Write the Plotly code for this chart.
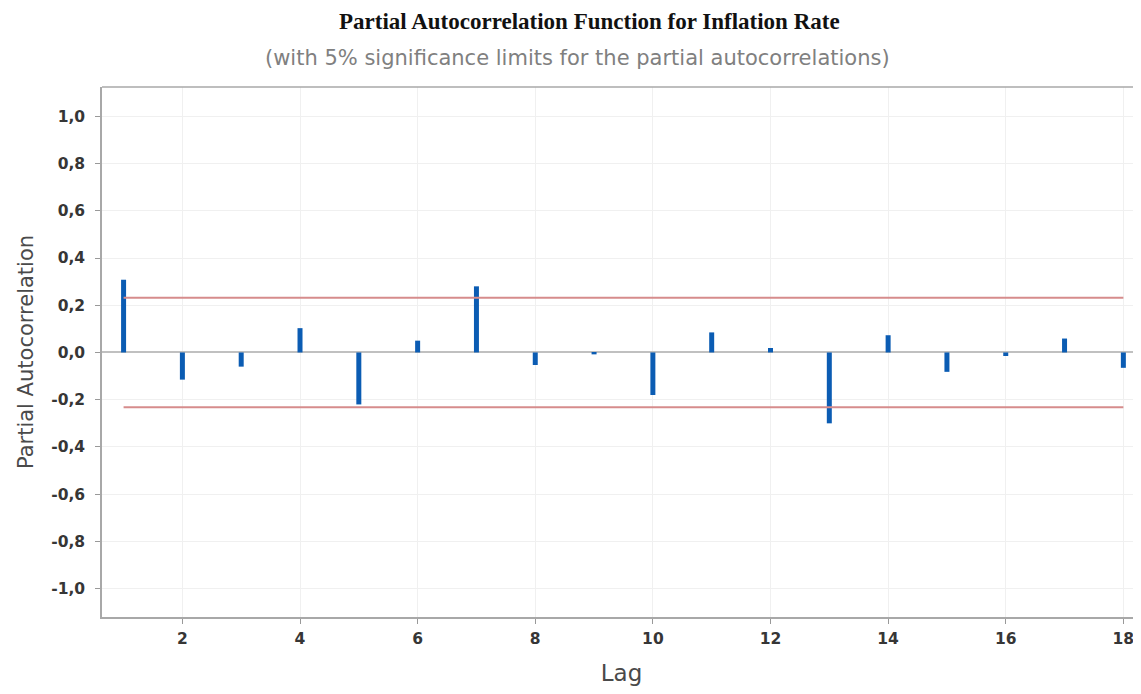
import plotly.graph_objects as go

lags = list(range(1, 19))
pacf = [0.308, -0.115, -0.060, 0.103, -0.220, 0.050, 0.280, -0.053, -0.008,
        -0.180, 0.085, 0.019, -0.300, 0.073, -0.082, -0.015, 0.059, -0.065]
sig_limit = 0.232
y_ticks = [-1.0, -0.8, -0.6, -0.4, -0.2, 0.0, 0.2, 0.4, 0.6, 0.8, 1.0]
y_tick_labels = [f"{v:.1f}".replace(".", ",") for v in y_ticks]
x_ticks = [2, 4, 6, 8, 10, 12, 14, 16, 18]

fig = go.Figure()

fig.add_trace(go.Scatter(x=[lags[0], lags[-1]], y=[sig_limit, sig_limit], mode="lines",
                         line=dict(color="rgb(214,140,140)", width=2), hoverinfo="skip",
                         showlegend=False))
fig.add_trace(go.Scatter(x=[lags[0], lags[-1]], y=[-sig_limit, -sig_limit], mode="lines",
                         line=dict(color="rgb(214,140,140)", width=2), hoverinfo="skip",
                         showlegend=False))
fig.add_trace(go.Bar(x=lags, y=pacf, width=0.085, marker=dict(color="#0b5cb3", line=dict(width=0)),
                     showlegend=False))

tick_font = dict(size=15.5, color="#363636", family="DejaVu Sans", weight="bold")

fig.update_layout(
    width=1133, height=686,
    margin=dict(l=94, r=0, t=79, b=77),
    paper_bgcolor="white", plot_bgcolor="white",
    font=dict(family="DejaVu Sans", color="#333333"),
    xaxis=dict(range=[0.633, 18.30], tickvals=x_ticks, ticks="outside", ticklen=5,
               tickcolor="#999999", showline=True, linecolor="#a8a8a8", linewidth=1.5,
               showgrid=True, gridcolor="#f0f0f0", gridwidth=1, zeroline=False,
               tickfont=tick_font, ticklabelstandoff=2,
               title=dict(text="Lag", font=dict(size=23, color="#4a4a4a", family="DejaVu Sans"),
                          standoff=18)),
    yaxis=dict(range=[-1.12, 1.124], tickvals=y_ticks, ticktext=y_tick_labels, ticks="outside",
               ticklen=5, tickcolor="#999999", showline=True, linecolor="#a8a8a8", linewidth=1.5,
               showgrid=True, gridcolor="#f0f0f0", gridwidth=1, zeroline=True,
               zerolinecolor="#c0c0c0", zerolinewidth=1.5,
               tickfont=tick_font, ticklabelstandoff=7,
               title=dict(text="Partial Autocorrelation",
                          font=dict(size=21, color="#4a4a4a", family="DejaVu Sans"),
                          standoff=12)),
    shapes=[dict(type="line", xref="paper", yref="paper", x0=0, x1=1, y0=1, y1=1,
                 line=dict(color="#a8a8a8", width=1.5))],
    annotations=[
        dict(text="<b>Partial Autocorrelation Function for Inflation Rate</b>", xref="paper",
             yref="paper", x=0.469, y=1, yshift=66, showarrow=False, yanchor="middle",
             font=dict(family="Liberation Serif", size=23, color="#111111")),
        dict(text="(with 5% significance limits for the partial autocorrelations)", xref="paper",
             yref="paper", x=0.458, y=1, yshift=29, showarrow=False, yanchor="middle",
             font=dict(family="DejaVu Sans", size=21, color="#808080")),
    ],
)

fig.write_html("out.html")
